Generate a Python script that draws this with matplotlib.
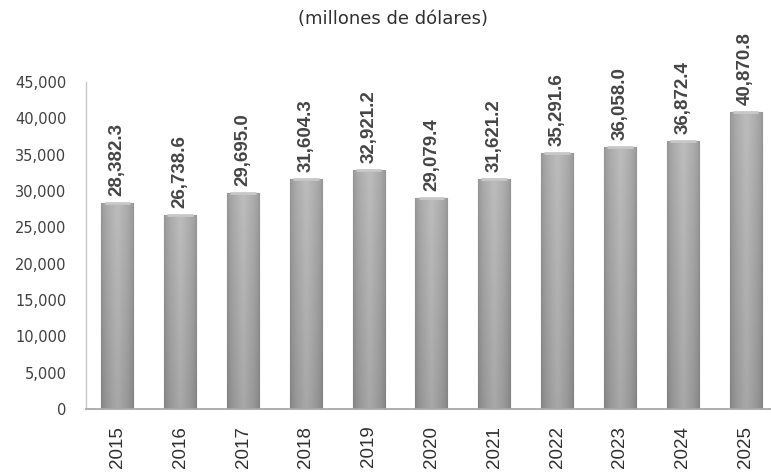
import matplotlib
matplotlib.use("Agg")
import matplotlib.pyplot as plt
import numpy as np
from matplotlib.ticker import FuncFormatter

years = ["2015", "2016", "2017", "2018", "2019", "2020", "2021", "2022", "2023", "2024", "2025"]
values = [28382.3, 26738.6, 29695.0, 31604.3, 32921.2, 29079.4, 31621.2, 35291.6, 36058.0, 36872.4, 40870.8]
title = "(millones de dólares)"
yticks = [0, 5000, 10000, 15000, 20000, 25000, 30000, 35000, 40000, 45000]

fig = plt.figure(figsize=(7.71, 4.74), dpi=100)
ax = fig.add_axes([0.1115, 0.1371, 0.8962, 0.6899])

x = np.arange(len(years))
bars = ax.bar(x, values, width=0.51, color="#a0a0a0", edgecolor="#7c7c7c", linewidth=0.8, zorder=2)

# gradient fill clipped to each bar
gx = np.linspace(0, 1, 64)
gy = np.linspace(0, 1, 128)
GX, GY = np.meshgrid(gx, gy)
edge = np.clip(1 - np.abs(GX - 0.5) * 2, 0, 1)
shade = 0.50 + 0.16 * (edge ** 0.6) + 0.08 * GY
for b in bars:
    x0, y0, w, h = b.get_x(), b.get_y(), b.get_width(), b.get_height()
    im = ax.imshow(shade, cmap="gray", vmin=0, vmax=1, origin="lower",
                   extent=[x0, x0 + w, y0, y0 + h], aspect="auto", zorder=2.5,
                   interpolation="bilinear")
    im.set_clip_path(b)
    ax.plot([x0 + w * 0.1, x0 + w * 0.9], [y0 + h, y0 + h], color="#c8c8c8",
            lw=2.0, zorder=2.6, solid_capstyle="butt")

for xi, v in zip(x, values):
    ax.annotate(f"{v:,.1f}", (xi, v), xytext=(0, 5), textcoords="offset points",
                rotation=90, ha="center", va="bottom", fontsize=13.5,
                fontweight="bold", color="#454545", family="Liberation Sans")

ax.set_xlim(-0.5, len(years) - 0.5)
ax.set_ylim(0, 45000)
ax.set_yticks(yticks)
ax.yaxis.set_major_formatter(FuncFormatter(lambda v, p: f"{int(v):,}"))
ax.set_xticks(x)
ax.set_xticklabels(years, rotation=90, fontsize=13.5, family="Liberation Sans", color="#303030")
for lab in ax.get_yticklabels():
    lab.set_fontsize(10.5)
    lab.set_family("DejaVu Sans")
    lab.set_color("#404040")
ax.tick_params(axis="y", length=0, pad=14)
ax.tick_params(axis="x", length=0, pad=12)

for s in ["top", "right"]:
    ax.spines[s].set_visible(False)
ax.spines["left"].set_color("#c8c8c8")
ax.spines["left"].set_linewidth(1.0)
ax.spines["bottom"].set_color("#a8a8a8")
ax.spines["bottom"].set_linewidth(1.3)

fig.text(393 / 771, 1 - 19 / 474, title, ha="center", va="center", fontsize=13,
         color="#303030", family="DejaVu Sans")

fig.savefig("out.png", dpi=100)
